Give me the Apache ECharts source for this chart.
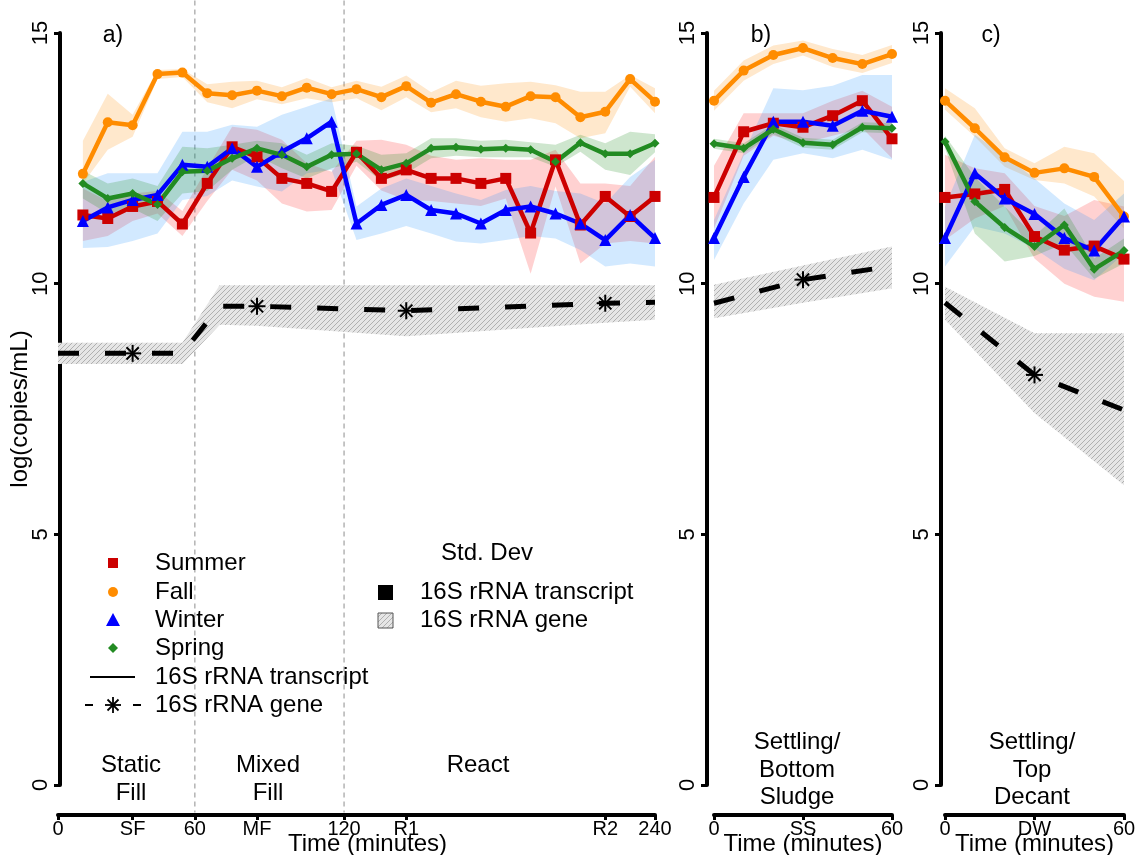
<!DOCTYPE html>
<html>
<head>
<meta charset="utf-8">
<script src="https://cdn.jsdelivr.net/npm/echarts@6/dist/echarts.min.js"></script>
<style>
html,body{margin:0;padding:0;background:#fff;}
#chart{width:1138px;height:855px;}
</style>
</head>
<body>
<div id="chart"></div>
<script>
// ---------- data ----------
// panel a: sample positions (index units), tick positions and labels
const samplesA = [1,2,3,4,5,6,7,8,9,10,11,12,13,14,15,16,17,18,19,20,21,22,23,24];
const ticksA = [0, 3, 5.5, 8, 11.5, 14, 22, 24];
const tickLabelsA = ['0','SF','60','MF','120','R1','R2','240'];
const phaseBoundsA = [5.5, 11.5];

const timesBC = [0,10,20,30,40,50,60];
const ticksBC = [0,30,60];
const tickLabelsB = ['0','SS','60'];
const tickLabelsC = ['0','DW','60'];

// panel a transcript means and std-dev band limits
const summerA   = [11.37,11.30,11.54,11.64,11.19,12.00,12.73,12.53,12.10,12.00,11.84,12.62,12.10,12.27,12.10,12.10,12.00,12.10,11.01,12.47,11.17,11.74,11.34,11.74];
const summerALo = [10.85,10.95,11.25,11.40,10.95,11.65,12.27,12.06,11.60,11.44,11.47,12.35,11.86,11.67,11.65,11.60,11.55,11.70,10.20,11.94,10.40,10.80,10.85,10.80];
const summerAHi = [11.90,11.65,11.80,11.85,11.45,12.30,13.13,13.07,12.87,12.40,12.23,12.85,12.87,12.77,12.55,12.47,12.50,12.47,12.47,12.67,12.00,12.00,11.95,12.53];

const fallA   = [12.19,13.22,13.16,14.18,14.21,13.80,13.76,13.85,13.74,13.91,13.78,13.88,13.72,13.94,13.61,13.78,13.63,13.53,13.74,13.72,13.32,13.43,14.08,13.63];
const fallALo = [12.00,12.67,12.93,14.08,14.12,13.62,13.50,13.68,13.58,13.70,13.62,13.70,13.46,13.72,13.42,13.50,13.32,13.23,13.30,13.20,12.90,13.00,13.93,13.40];
const fallAHi = [12.85,13.79,13.37,14.26,14.28,13.98,14.03,14.05,13.92,14.10,13.92,14.05,13.93,14.15,13.82,14.05,13.95,14.00,14.03,13.96,13.83,13.83,14.16,13.90];

const winterA   = [11.25,11.52,11.67,11.77,12.37,12.33,12.70,12.33,12.63,12.90,13.23,11.20,11.57,11.77,11.47,11.40,11.20,11.47,11.54,11.40,11.20,10.87,11.37,10.91];
const winterALo = [10.71,10.73,10.85,11.00,11.67,11.75,12.06,11.94,11.84,12.20,12.27,10.87,11.00,11.15,11.00,10.84,10.80,10.87,10.95,10.90,10.67,10.34,10.40,10.34];
const winterAHi = [12.03,12.20,12.20,12.20,13.03,13.03,13.17,13.13,13.37,13.53,13.70,11.54,11.90,12.10,11.95,11.80,11.67,11.87,11.95,11.85,11.80,11.60,12.13,12.47];

const springA   = [12.00,11.70,11.80,11.58,12.23,12.25,12.50,12.70,12.57,12.33,12.57,12.59,12.27,12.40,12.70,12.72,12.68,12.70,12.67,12.43,12.81,12.59,12.59,12.80];
const springALo = [11.70,11.40,11.50,11.25,11.80,11.85,12.27,12.55,12.30,12.10,12.30,12.43,12.05,12.20,12.50,12.55,12.52,12.52,12.52,12.33,12.63,12.27,12.17,12.62];
const springAHi = [12.25,12.00,12.10,11.95,12.73,12.70,12.77,12.85,12.80,12.57,12.80,12.75,12.57,12.60,12.90,12.90,12.85,12.87,12.82,12.77,12.97,12.80,13.03,12.98];

// panel a gene (dashed) line, band and marked samples
const geneAx  = [0, 3, 5, 6.5, 8, 14, 22, 24];
const geneAy  = [8.61, 8.61, 8.61, 9.55, 9.55, 9.46, 9.61, 9.63];
const geneALo = [8.40, 8.40, 8.40, 9.18, 9.16, 8.95, 9.22, 9.28];
const geneAHi = [8.82, 8.82, 8.82, 9.97, 9.97, 9.97, 9.97, 9.97];
const geneAMarkX = [3, 8, 14, 22];
const geneAMarkY = [8.61, 9.55, 9.46, 9.61];

// panel b
const summerB   = [11.72,13.03,13.20,13.12,13.35,13.65,12.89];
const summerBLo = [11.10,12.55,12.95,12.80,12.95,13.10,12.50];
const summerBHi = [12.35,13.40,13.40,13.40,13.65,13.85,13.53];
const fallB   = [13.65,14.25,14.56,14.70,14.50,14.38,14.58];
const fallBLo = [13.45,14.05,14.38,14.55,14.32,14.20,14.40];
const fallBHi = [13.85,14.45,14.75,14.85,14.68,14.56,14.76];
const winterB   = [10.91,12.13,13.23,13.23,13.15,13.45,13.33];
const winterBLo = [10.47,11.60,12.47,12.60,12.50,12.67,12.47];
const winterBHi = [11.27,12.60,13.90,13.86,13.95,14.16,14.16];
const springB   = [12.79,12.70,13.08,12.81,12.77,13.12,13.10];
const springBLo = [12.69,12.60,12.98,12.71,12.67,13.02,13.00];
const springBHi = [12.89,12.80,13.18,12.91,12.87,13.22,13.20];
const geneBx  = [0, 30, 60];
const geneBy  = [9.61, 10.08, 10.35];
const geneBLo = [9.31, 9.62, 9.91];
const geneBHi = [9.98, 10.36, 10.74];
const geneBMarkX = [30];
const geneBMarkY = [10.08];

// panel c
const summerC   = [11.72,11.79,11.88,10.94,10.67,10.75,10.49];
const summerCLo = [10.87,11.30,11.55,10.50,10.00,9.74,9.64];
const summerCHi = [12.57,12.30,12.20,11.55,11.35,11.67,11.54];
const fallC   = [13.65,13.10,12.52,12.21,12.30,12.13,11.34];
const fallCLo = [13.47,12.93,12.33,12.07,12.00,11.74,11.10];
const fallCHi = [13.90,13.50,12.70,12.40,12.73,12.60,12.05];
const winterC   = [10.91,12.20,11.70,11.39,10.91,10.66,11.34];
const winterCLo = [10.34,11.14,11.00,10.70,10.30,10.07,10.60];
const winterCHi = [11.54,12.97,12.55,12.10,11.60,11.27,11.80];
const springC   = [12.83,11.64,11.12,10.74,11.17,10.29,10.66];
const springCLo = [12.70,11.00,10.44,10.55,10.80,10.10,10.40];
const springCHi = [12.95,12.13,11.54,10.95,11.50,10.50,10.90];
const geneCx  = [0, 30, 60];
const geneCy  = [9.62, 8.18, 7.48];
const geneCLo = [9.28, 7.42, 5.98];
const geneCHi = [9.94, 9.01, 9.01];
const geneCMarkX = [30];
const geneCMarkY = [8.18];

// ---------- styling ----------
const FONT = '"Liberation Sans", Arial, Helvetica, sans-serif';
const C = {
  summer: '#CC0000', fall: '#FF8C00', winter: '#0000FF', spring: '#228B22'
};
const BAND = {
  summer: 'rgba(255,0,0,0.18)', fall: 'rgba(255,140,0,0.2)',
  winter: 'rgba(30,144,255,0.2)', spring: 'rgba(34,139,34,0.22)'
};

function makeHatch() {
  const c = document.createElement('canvas');
  c.width = 5; c.height = 5;
  const g = c.getContext('2d');
  g.fillStyle = '#e6e6e6';
  g.fillRect(0, 0, 5, 5);
  g.strokeStyle = '#b0b0b0';
  g.lineWidth = 1;
  g.beginPath();
  g.moveTo(0, 5); g.lineTo(5, 0);
  g.moveTo(-1, 1); g.lineTo(1, -1);
  g.moveTo(4, 6); g.lineTo(6, 4);
  g.stroke();
  return c;
}
const hatch = makeHatch();
const hatchFill = { image: hatch, repeat: 'repeat' };

// ---------- builders ----------
function xAxisDef(g, min, max, ticks, labels, padLeft) {
  return {
    type: 'value', gridIndex: g, min: min, max: max, offset: 30,
    name: 'Time (minutes)', nameLocation: 'middle', nameGap: 17, nameMoveOverlap: false,
    nameTextStyle: { fontFamily: FONT, fontSize: 24, color: '#000', padding: [0, 0, 0, padLeft] },
    axisLine: { show: true, onZero: false, lineStyle: { color: '#000', width: 4 } },
    axisTick: { show: true, customValues: ticks, length: 5, lineStyle: { color: '#000', width: 3 } },
    axisLabel: {
      customValues: ticks, margin: 4, fontFamily: FONT, fontSize: 20, color: '#000',
      formatter: function (v) { const i = ticks.indexOf(v); return i >= 0 ? labels[i] : ''; }
    },
    splitLine: { show: false }
  };
}
function yAxisDef(g, offset, withName) {
  const ax = {
    type: 'value', gridIndex: g, min: 0, max: 15, interval: 5, offset: offset,
    axisLine: { show: true, onZero: false, lineStyle: { color: '#000', width: 4 } },
    axisTick: { show: true, length: 6, lineStyle: { color: '#000', width: 3 } },
    axisLabel: { rotate: 90, margin: 8, fontFamily: FONT, fontSize: 22, color: '#000' },
    splitLine: { show: false }
  };
  if (withName) {
    ax.name = 'log(copies/mL)';
    ax.nameLocation = 'middle';
    ax.nameGap = 28;
    ax.nameMoveOverlap = false;
    ax.nameTextStyle = { fontFamily: FONT, fontSize: 24, color: '#000' };
  }
  return ax;
}
function bandSeries(g, xs, lo, hi, fill, z) {
  return {
    type: 'custom', xAxisIndex: g, yAxisIndex: g, silent: true, clip: false, z: z || 1,
    data: xs.map((x, i) => [x, lo[i], hi[i]]),
    encode: { x: 0, y: [1, 2] },
    renderItem: function (params, api) {
      if (params.dataIndex !== 0) return null;
      const pts = [];
      for (let i = 0; i < xs.length; i++) pts.push(api.coord([xs[i], hi[i]]));
      for (let i = xs.length - 1; i >= 0; i--) pts.push(api.coord([xs[i], lo[i]]));
      return { type: 'polygon', shape: { points: pts }, style: { fill: fill, stroke: null } };
    }
  };
}
function seasonLine(g, name, xs, ys, color, symbol, size) {
  return {
    type: 'line', name: name, xAxisIndex: g, yAxisIndex: g, silent: true, z: 5,
    data: xs.map((x, i) => [x, ys[i]]),
    symbol: symbol, symbolSize: size, showSymbol: true,
    lineStyle: { color: color, width: 4.5 },
    itemStyle: { color: color, borderWidth: 0 }
  };
}
function geneLine(g, xs, ys) {
  return {
    type: 'line', xAxisIndex: g, yAxisIndex: g, silent: true, z: 3,
    data: xs.map((x, i) => [x, ys[i]]),
    showSymbol: false, symbol: 'none',
    lineStyle: { color: '#000', width: 5, type: [21, 26], cap: 'butt' }
  };
}
function asteriskSeries(g, xs, ys) {
  return {
    type: 'custom', xAxisIndex: g, yAxisIndex: g, silent: true, clip: false, z: 4,
    data: xs.map((x, i) => [x, ys[i]]),
    encode: { x: 0, y: 1 },
    renderItem: function (params, api) {
      const p = api.coord([api.value(0), api.value(1)]);
      const r = 8.5, d = r * 0.72;
      const st = { stroke: '#000', lineWidth: 2 };
      return {
        type: 'group', children: [
          { type: 'line', shape: { x1: p[0], y1: p[1] - r, x2: p[0], y2: p[1] + r }, style: st },
          { type: 'line', shape: { x1: p[0] - r, y1: p[1], x2: p[0] + r, y2: p[1] }, style: st },
          { type: 'line', shape: { x1: p[0] - d, y1: p[1] - d, x2: p[0] + d, y2: p[1] + d }, style: st },
          { type: 'line', shape: { x1: p[0] - d, y1: p[1] + d, x2: p[0] + d, y2: p[1] - d }, style: st }
        ]
      };
    }
  };
}
function boundLines(g, xs) {
  return {
    type: 'custom', xAxisIndex: g, yAxisIndex: g, silent: true, clip: false, z: 0,
    data: xs.map(x => [x, 0]),
    encode: { x: 0, y: 1 },
    renderItem: function (params, api) {
      const a = api.coord([api.value(0), 15.65]);
      const b = api.coord([api.value(0), -0.55]);
      return { type: 'line', shape: { x1: a[0], y1: a[1], x2: b[0], y2: b[1] },
        style: { stroke: '#b4b4b4', lineWidth: 1.5, lineDash: [5, 4] } };
    }
  };
}
function panelSeries(g, xs, d) {
  return [
    bandSeries(g, d.gx, d.glo, d.ghi, hatchFill, 1),
    bandSeries(g, xs, d.sLo, d.sHi, BAND.summer, 2),
    bandSeries(g, xs, d.fLo, d.fHi, BAND.fall, 2),
    bandSeries(g, xs, d.wLo, d.wHi, BAND.winter, 2),
    bandSeries(g, xs, d.pLo, d.pHi, BAND.spring, 2),
    geneLine(g, d.gx, d.gy),
    asteriskSeries(g, d.mx, d.my),
    seasonLine(g, 'Summer', xs, d.s, C.summer, 'rect', 11),
    seasonLine(g, 'Fall', xs, d.f, C.fall, 'circle', 10),
    seasonLine(g, 'Winter', xs, d.w, C.winter, 'triangle', 12),
    seasonLine(g, 'Spring', xs, d.p, C.spring, 'diamond', 9)
  ];
}

const series = [].concat(
  [boundLines(0, phaseBoundsA)],
  panelSeries(0, samplesA, {
    s: summerA, sLo: summerALo, sHi: summerAHi, f: fallA, fLo: fallALo, fHi: fallAHi,
    w: winterA, wLo: winterALo, wHi: winterAHi, p: springA, pLo: springALo, pHi: springAHi,
    gx: geneAx, gy: geneAy, glo: geneALo, ghi: geneAHi, mx: geneAMarkX, my: geneAMarkY }),
  panelSeries(1, timesBC, {
    s: summerB, sLo: summerBLo, sHi: summerBHi, f: fallB, fLo: fallBLo, fHi: fallBHi,
    w: winterB, wLo: winterBLo, wHi: winterBHi, p: springB, pLo: springBLo, pHi: springBHi,
    gx: geneBx, gy: geneBy, glo: geneBLo, ghi: geneBHi, mx: geneBMarkX, my: geneBMarkY }),
  panelSeries(2, timesBC, {
    s: summerC, sLo: summerCLo, sHi: summerCHi, f: fallC, fLo: fallCLo, fHi: fallCHi,
    w: winterC, wLo: winterCLo, wHi: winterCHi, p: springC, pLo: springCLo, pHi: springCHi,
    gx: geneCx, gy: geneCy, glo: geneCLo, ghi: geneCHi, mx: geneCMarkX, my: geneCMarkY })
);

// ---------- annotations & legend (graphic) ----------
function txt(x, y, s, size, align) {
  return { type: 'text', x: x, y: y, z: 10, silent: true,
    style: { text: s, font: (size || 24) + 'px ' + FONT, fill: '#000',
      textAlign: align || 'center', textVerticalAlign: 'middle' } };
}
const graphics = [
  txt(113, 36, 'a)', 23), txt(761, 36, 'b)', 23), txt(991, 36, 'c)', 23),
  txt(131, 765, 'Static'), txt(131, 793, 'Fill'),
  txt(268, 765, 'Mixed'), txt(268, 793, 'Fill'),
  txt(478, 765, 'React'),
  txt(797, 742, 'Settling/'), txt(797, 770, 'Bottom'), txt(797, 797, 'Sludge'),
  txt(1032, 742, 'Settling/'), txt(1032, 770, 'Top'), txt(1032, 797, 'Decant'),
  // legend 1
  { type: 'rect', silent: true, z: 10, shape: { x: 108, y: 558, width: 10, height: 10 }, style: { fill: C.summer } },
  { type: 'circle', silent: true, z: 10, shape: { cx: 113, cy: 592, r: 5 }, style: { fill: C.fall } },
  { type: 'polygon', silent: true, z: 10, shape: { points: [[113, 613], [120, 626], [106, 626]] }, style: { fill: C.winter } },
  { type: 'polygon', silent: true, z: 10, shape: { points: [[113, 643], [118, 648], [113, 653], [108, 648]] }, style: { fill: C.spring } },
  { type: 'line', silent: true, z: 10, shape: { x1: 90, y1: 677, x2: 135, y2: 677 }, style: { stroke: '#000', lineWidth: 2 } },
  { type: 'line', silent: true, z: 10, shape: { x1: 85, y1: 705, x2: 93, y2: 705 }, style: { stroke: '#000', lineWidth: 2 } },
  { type: 'line', silent: true, z: 10, shape: { x1: 133, y1: 705, x2: 141, y2: 705 }, style: { stroke: '#000', lineWidth: 2 } },
  { type: 'line', silent: true, z: 10, shape: { x1: 113, y1: 697, x2: 113, y2: 713 }, style: { stroke: '#000', lineWidth: 1.8 } },
  { type: 'line', silent: true, z: 10, shape: { x1: 105, y1: 705, x2: 121, y2: 705 }, style: { stroke: '#000', lineWidth: 1.8 } },
  { type: 'line', silent: true, z: 10, shape: { x1: 107.5, y1: 699.5, x2: 118.5, y2: 710.5 }, style: { stroke: '#000', lineWidth: 1.8 } },
  { type: 'line', silent: true, z: 10, shape: { x1: 107.5, y1: 710.5, x2: 118.5, y2: 699.5 }, style: { stroke: '#000', lineWidth: 1.8 } },
  txt(155, 563, 'Summer', 24, 'left'),
  txt(155, 592, 'Fall', 24, 'left'),
  txt(155, 620, 'Winter', 24, 'left'),
  txt(155, 648, 'Spring', 24, 'left'),
  txt(155, 677, '16S rRNA transcript', 24, 'left'),
  txt(155, 705, '16S rRNA gene', 24, 'left'),
  // legend 2
  txt(487, 553, 'Std. Dev', 24),
  { type: 'rect', silent: true, z: 10, shape: { x: 378, y: 585, width: 15, height: 15 }, style: { fill: '#000' } },
  { type: 'rect', silent: true, z: 10, shape: { x: 378, y: 613, width: 15, height: 15 }, style: { fill: hatchFill, stroke: '#555', lineWidth: 1 } },
  txt(420, 592, '16S rRNA transcript', 24, 'left'),
  txt(420, 620, '16S rRNA gene', 24, 'left')
];

const option = {
  animation: false,
  backgroundColor: '#ffffff',
  textStyle: { fontFamily: FONT },
  grid: [
    { left: 58, top: 33, width: 597, height: 752, outerBoundsMode: 'none', containLabel: false },
    { left: 714, top: 33, width: 178, height: 752, outerBoundsMode: 'none', containLabel: false },
    { left: 945, top: 33, width: 179, height: 752, outerBoundsMode: 'none', containLabel: false }
  ],
  xAxis: [
    xAxisDef(0, 0, 24, ticksA, tickLabelsA, 22),
    xAxisDef(1, 0, 60, ticksBC, tickLabelsB, 0),
    xAxisDef(2, 0, 60, ticksBC, tickLabelsC, 0)
  ],
  yAxis: [
    yAxisDef(0, -2, true),
    yAxisDef(1, 7, false),
    yAxisDef(2, 4, false)
  ],
  series: series,
  graphic: graphics
};

const chart = echarts.init(document.getElementById('chart'), null, { renderer: 'canvas' });
chart.setOption(option);
</script>
</body>
</html>
